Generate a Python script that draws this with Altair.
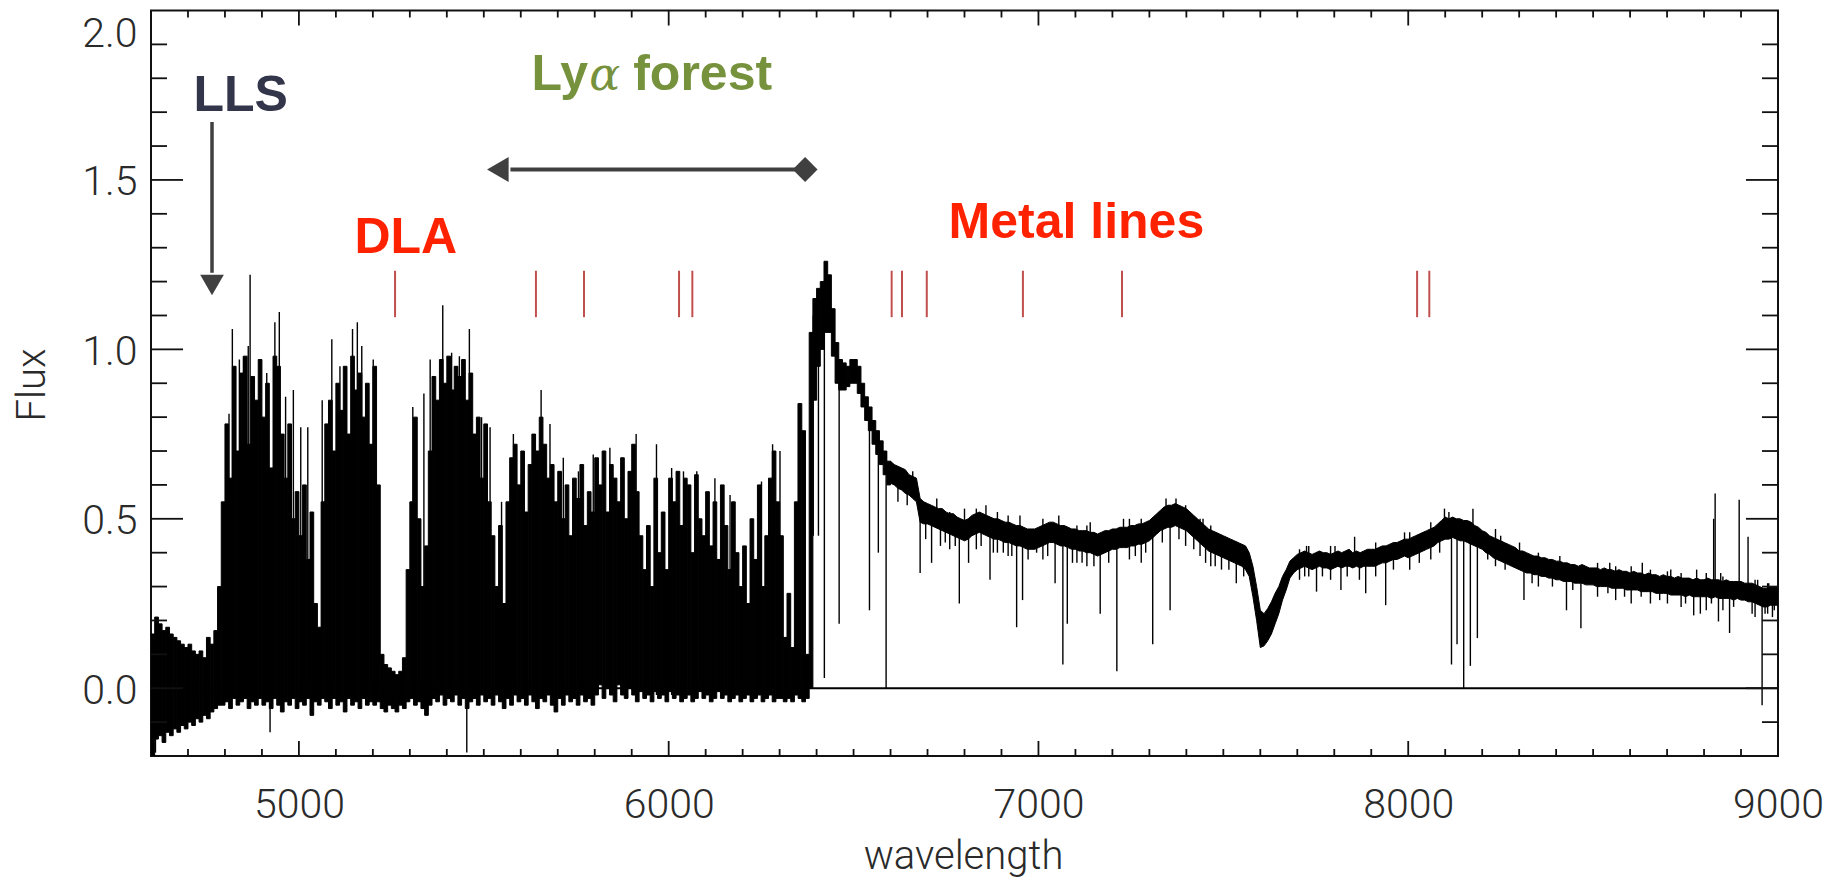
import altair as alt
import pandas as pd

# ---------------- spectrum, Lyman-alpha forest part: 10 A bins from 4600 ----------------
forest_start = 4600
forest_step = 10
forest_hi = [
    0.16, 0.21, 0.19, 0.17, 0.18, 0.16, 0.15, 0.14, 0.13, 0.12,
    0.13, 0.11, 0.10, 0.11, 0.09, 0.15, 0.13, 0.17, 0.30, 0.55,
    0.78, 0.62, 0.95, 0.70, 0.93, 0.98, 0.72, 0.92, 0.85, 0.97,
    0.80, 0.90, 0.65, 0.98, 0.95, 0.75, 0.62, 0.78, 0.50, 0.58,
    0.45, 0.60, 0.38, 0.52, 0.25, 0.18, 0.55, 0.78, 0.85, 0.70,
    0.90, 0.82, 0.95, 0.75, 0.98, 0.88, 0.93, 0.80, 0.90, 0.72,
    0.95, 0.60, 0.10, 0.07, 0.06, 0.05, 0.04, 0.05, 0.09, 0.35,
    0.55, 0.80, 0.50, 0.30, 0.42, 0.70, 0.92, 0.85, 0.97, 0.90,
    0.98, 0.88, 0.95, 0.92, 0.97, 0.85, 0.93, 0.75, 0.80, 0.62,
    0.78, 0.55, 0.45, 0.30, 0.48, 0.25, 0.55, 0.68, 0.72, 0.60,
    0.70, 0.52, 0.66, 0.75, 0.70, 0.80, 0.72, 0.62, 0.66, 0.55,
    0.64, 0.50, 0.60, 0.45, 0.62, 0.56, 0.66, 0.48, 0.58, 0.52,
    0.68, 0.60, 0.70, 0.52, 0.66, 0.62, 0.55, 0.68, 0.50, 0.64,
    0.72, 0.58, 0.45, 0.35, 0.48, 0.30, 0.62, 0.40, 0.52, 0.35,
    0.62, 0.55, 0.64, 0.48, 0.62, 0.60, 0.40, 0.63, 0.50, 0.45,
    0.58, 0.42, 0.55, 0.38, 0.60, 0.48, 0.35, 0.55, 0.40, 0.30,
    0.42, 0.25, 0.50, 0.38, 0.60, 0.30, 0.45, 0.62, 0.70, 0.55,
    0.45, 0.15, 0.28, 0.12, 0.55, 0.84, 0.76, 0.10, 1.05, 1.15,
    1.18, 1.20, 1.26, 1.22, 1.12, 1.02, 0.97, 0.96, 0.95, 0.97,
    0.97, 0.95, 0.90, 0.86, 0.83, 0.79, 0.76, 0.73, 0.70, 0.67,
]
forest_lo = [
    -0.20, -0.15, -0.14, -0.16, -0.13, -0.14, -0.12, -0.13, -0.11, -0.12,
    -0.10, -0.11, -0.09, -0.10, -0.08, -0.09, -0.07, -0.06, -0.05, -0.05,
    -0.04, -0.06, -0.03, -0.05, -0.04, -0.03, -0.06, -0.04, -0.05, -0.03,
    -0.05, -0.04, -0.06, -0.03, -0.05, -0.07, -0.04, -0.05, -0.03, -0.06,
    -0.04, -0.05, -0.03, -0.08, -0.04, -0.05, -0.03, -0.04, -0.06, -0.03,
    -0.05, -0.04, -0.07, -0.03, -0.05, -0.04, -0.06, -0.03, -0.05, -0.04,
    -0.05, -0.04, -0.06, -0.07, -0.05, -0.06, -0.07, -0.05, -0.06, -0.04,
    -0.03, -0.05, -0.04, -0.06, -0.08, -0.05, -0.03, -0.04, -0.02, -0.05,
    -0.03, -0.04, -0.02, -0.05, -0.03, -0.06, -0.04, -0.03, -0.05, -0.02,
    -0.04, -0.03, -0.05, -0.02, -0.04, -0.06, -0.03, -0.05, -0.02, -0.04,
    -0.03, -0.05, -0.02, -0.04, -0.06, -0.03, -0.04, -0.02, -0.05, -0.07,
    -0.03, -0.05, -0.02, -0.04, -0.03, -0.05, -0.02, -0.04, -0.03, -0.05,
    -0.02, 0.01, -0.03, 0.00, -0.02, -0.04, 0.01, -0.02, -0.03, 0.00,
    -0.02, -0.04, -0.01, -0.03, -0.02, -0.04, -0.01, -0.03, -0.02, -0.04,
    -0.01, -0.03, -0.02, -0.04, -0.03, -0.02, -0.04, -0.03, -0.01, -0.03,
    -0.02, -0.04, -0.03, -0.01, -0.03, -0.02, -0.04, -0.03, -0.02, -0.04,
    -0.03, -0.02, -0.04, -0.03, -0.02, -0.04, -0.03, -0.02, -0.04, -0.03,
    -0.03, -0.04, -0.03, -0.04, -0.02, -0.03, -0.04, -0.03, 0.00, 0.85,
    0.95, 1.00, 1.05, 1.05, 0.98, 0.90, 0.88, 0.88, 0.89, 0.90,
    0.90, 0.87, 0.83, 0.79, 0.76, 0.72, 0.69, 0.66, 0.63, 0.60,
]

# ---------------- spectrum, red continuum: samples every 10 A from 6600 to 9000 ----------------
cont_start = 6600
cont_step = 10
cont_hi = [
    0.67, 0.66, 0.655, 0.65, 0.645, 0.63, 0.625, 0.62, 0.56, 0.55,
    0.545, 0.54, 0.535, 0.53, 0.53, 0.52, 0.515, 0.515, 0.505, 0.50,
    0.495, 0.50, 0.51, 0.515, 0.52, 0.515, 0.51, 0.505, 0.50, 0.50,
    0.495, 0.49, 0.49, 0.485, 0.48, 0.48, 0.475, 0.47, 0.47, 0.47,
    0.475, 0.48, 0.485, 0.49, 0.49, 0.485, 0.48, 0.48, 0.475, 0.47,
    0.47, 0.465, 0.465, 0.465, 0.46, 0.46, 0.455, 0.46, 0.465, 0.465,
    0.47, 0.47, 0.475, 0.475, 0.475, 0.48, 0.48, 0.485, 0.485, 0.49,
    0.495, 0.505, 0.515, 0.525, 0.535, 0.54, 0.54, 0.545, 0.54, 0.535,
    0.53, 0.52, 0.51, 0.50, 0.49, 0.48, 0.47, 0.465, 0.46, 0.455,
    0.45, 0.445, 0.44, 0.435, 0.43, 0.425, 0.42, 0.40, 0.36, 0.30,
    0.23, 0.22, 0.235, 0.255, 0.28, 0.30, 0.33, 0.35, 0.375, 0.385,
    0.395, 0.40, 0.405, 0.40, 0.395, 0.40, 0.405, 0.40, 0.40, 0.395,
    0.40, 0.405, 0.40, 0.405, 0.41, 0.40, 0.405, 0.40, 0.405, 0.41,
    0.41, 0.41, 0.415, 0.42, 0.42, 0.425, 0.43, 0.43, 0.435, 0.44,
    0.44, 0.445, 0.45, 0.455, 0.46, 0.465, 0.47, 0.475, 0.485, 0.495,
    0.505, 0.50, 0.505, 0.50, 0.50, 0.495, 0.495, 0.49, 0.48, 0.475,
    0.465, 0.46, 0.45, 0.445, 0.44, 0.435, 0.43, 0.425, 0.42, 0.415,
    0.405, 0.405, 0.40, 0.395, 0.39, 0.39, 0.385, 0.385, 0.38, 0.38,
    0.375, 0.375, 0.37, 0.37, 0.365, 0.365, 0.36, 0.365, 0.36, 0.355,
    0.355, 0.355, 0.35, 0.355, 0.35, 0.35, 0.345, 0.35, 0.345, 0.345,
    0.34, 0.345, 0.34, 0.34, 0.335, 0.34, 0.335, 0.335, 0.33, 0.335,
    0.33, 0.33, 0.325, 0.33, 0.325, 0.325, 0.325, 0.32, 0.325, 0.32,
    0.32, 0.325, 0.32, 0.32, 0.32, 0.315, 0.32, 0.315, 0.315, 0.315,
    0.315, 0.31, 0.31, 0.31, 0.305, 0.30, 0.295, 0.295, 0.30, 0.30,
    0.30,
]
cont_lo = [
    0.605, 0.60, 0.59, 0.585, 0.575, 0.57, 0.56, 0.55, 0.49, 0.485,
    0.485, 0.48, 0.475, 0.47, 0.465, 0.46, 0.455, 0.45, 0.445, 0.44,
    0.435, 0.44, 0.45, 0.455, 0.46, 0.455, 0.45, 0.445, 0.44, 0.44,
    0.435, 0.43, 0.43, 0.425, 0.42, 0.42, 0.415, 0.41, 0.41, 0.41,
    0.415, 0.42, 0.425, 0.43, 0.43, 0.425, 0.42, 0.42, 0.415, 0.41,
    0.41, 0.405, 0.405, 0.40, 0.40, 0.395, 0.39, 0.395, 0.40, 0.405,
    0.41, 0.41, 0.415, 0.415, 0.415, 0.42, 0.42, 0.425, 0.425, 0.43,
    0.435, 0.445, 0.455, 0.465, 0.47, 0.475, 0.475, 0.48, 0.475, 0.47,
    0.465, 0.455, 0.445, 0.435, 0.425, 0.415, 0.405, 0.40, 0.395, 0.39,
    0.385, 0.38, 0.375, 0.37, 0.365, 0.36, 0.35, 0.33, 0.27, 0.20,
    0.12, 0.125, 0.14, 0.16, 0.19, 0.22, 0.26, 0.29, 0.325, 0.34,
    0.35, 0.355, 0.36, 0.355, 0.35, 0.355, 0.36, 0.355, 0.355, 0.35,
    0.355, 0.36, 0.355, 0.36, 0.36, 0.355, 0.36, 0.355, 0.36, 0.36,
    0.36, 0.36, 0.365, 0.37, 0.37, 0.375, 0.38, 0.38, 0.385, 0.39,
    0.385, 0.39, 0.395, 0.40, 0.405, 0.41, 0.415, 0.42, 0.43, 0.435,
    0.44, 0.44, 0.445, 0.44, 0.435, 0.435, 0.43, 0.425, 0.42, 0.415,
    0.41, 0.40, 0.395, 0.385, 0.38, 0.375, 0.37, 0.365, 0.36, 0.355,
    0.35, 0.345, 0.34, 0.34, 0.335, 0.335, 0.33, 0.33, 0.325, 0.325,
    0.32, 0.32, 0.315, 0.315, 0.315, 0.31, 0.31, 0.31, 0.305, 0.305,
    0.305, 0.30, 0.30, 0.30, 0.30, 0.295, 0.295, 0.295, 0.295, 0.29,
    0.29, 0.29, 0.29, 0.285, 0.285, 0.285, 0.285, 0.28, 0.28, 0.28,
    0.28, 0.275, 0.275, 0.275, 0.275, 0.27, 0.275, 0.27, 0.27, 0.27,
    0.27, 0.27, 0.265, 0.27, 0.265, 0.265, 0.265, 0.265, 0.26, 0.265,
    0.26, 0.26, 0.255, 0.255, 0.25, 0.245, 0.24, 0.24, 0.245, 0.245,
    0.245,
]

# ---------------- narrow features (absorption lines, forest peaks, sky lines, noise) ----------------
line_wl = [
    4606, 4612, 4811, 4820, 4839, 4850, 4863, 4868, 4913, 4922, 4935, 4947, 4964, 4985,
    5005, 5024, 5035, 5063, 5089, 5111, 5145, 5158, 5170, 5201, 5308, 5338, 5355, 5389,
    5413, 5434, 5454, 5461, 5494, 5517, 5548, 5580, 5655, 5679, 5715, 5756, 5796, 5841,
    5873, 5912, 5967, 6008, 6040, 6076, 6125, 6166, 6251, 6281, 6301, 6351,
    6391, 6405, 6421, 6461, 6543, 6567, 6588,
    6680, 6711, 6786, 6811, 6869, 6941, 6957, 6995, 7045, 7066, 7078, 7167, 7212,
    7309, 7356, 7495, 7535, 7752, 7818, 7855, 7885, 7939, 8117, 8132, 8150, 8168,
    8175, 8187, 8301, 8313, 8428, 8467, 8772, 8790, 8826, 8830, 8839, 8869, 8895,
    8919, 8957, 8990,
    6735, 6760, 6832, 6889, 6918, 7012, 7104, 7131, 7246, 7278, 7398, 7437, 7466,
    7706, 7731, 7790, 7912, 8004, 8061, 8236, 8352, 8512, 8561, 8603, 8655, 8701,
    8738, 8806, 8851, 8938, 8972,
    6620, 6645, 6695, 6748, 6775, 6845, 6878, 6905, 6928, 6972, 7025, 7092, 7118,
    7150, 7190, 7262, 7290, 7335, 7380, 7420, 7452, 7478, 7515, 7555, 7720, 7768,
    7835, 7868, 7960, 8030, 8085, 8215, 8262, 8335, 8390, 8445, 8540, 8585, 8630,
    8680, 8750, 8820, 8880, 8930, 8965, 8985,
    6660, 6725, 6800, 6858, 6950, 7055, 7140, 7230, 7345, 7372, 7445, 7725, 7802,
    7990, 8098, 8110, 8250, 8410, 8545, 8633, 8710, 8780, 8845, 8945, 8975,
]
line_lo = [
    -0.20, -0.19, -0.02, -0.02, -0.02, -0.02, -0.02, -0.02, -0.02, -0.13, -0.02, -0.02, -0.02, -0.02,
    -0.02, -0.02, -0.08, -0.02, -0.02, -0.02, -0.02, -0.02, -0.02, -0.02, -0.02, -0.02, -0.02, -0.02,
    -0.02, -0.02, -0.19, -0.02, -0.02, -0.02, -0.02, -0.02, -0.02, -0.02, -0.02, -0.02, -0.02, -0.02,
    -0.02, -0.02, -0.02, -0.02, -0.02, -0.02, -0.02, -0.02, -0.02, -0.02, -0.02, -0.02,
    0.45, 0.45, 0.03, 0.19, 0.23, 0.40, 0.00,
    0.34, 0.37, 0.25, 0.37, 0.32, 0.18, 0.26, 0.40, 0.31, 0.07, 0.19, 0.22, 0.05,
    0.13, 0.23, 0.35, 0.31, 0.285, 0.29, 0.38, 0.28, 0.245, 0.07, 0.13, 0.00, 0.066,
    0.46, 0.148, 0.38, 0.26, 0.23, 0.177, 0.215, 0.22, 0.30, 0.30, 0.197, 0.163, 0.30,
    0.29, -0.05, 0.23,
    0.42, 0.41, 0.41, 0.40, 0.39, 0.38, 0.37, 0.36, 0.38, 0.37, 0.42, 0.39, 0.36,
    0.32, 0.33, 0.32, 0.33, 0.35, 0.38, 0.36, 0.30, 0.27, 0.26, 0.25, 0.25, 0.25,
    0.24, 0.23, 0.23, 0.21, 0.22,
    0.55, 0.54, 0.44, 0.43, 0.42, 0.42, 0.40, 0.40, 0.39, 0.38, 0.39, 0.37, 0.37,
    0.36, 0.37, 0.39, 0.40, 0.43, 0.44, 0.41, 0.37, 0.36, 0.35, 0.33, 0.33, 0.33,
    0.33, 0.32, 0.35, 0.37, 0.40, 0.38, 0.35, 0.31, 0.30, 0.29, 0.28, 0.27, 0.27,
    0.26, 0.25, 0.25, 0.24, 0.22, 0.22, 0.21,
    0.58, 0.50, 0.47, 0.48, 0.45, 0.45, 0.43, 0.44, 0.50, 0.50, 0.45, 0.37, 0.38,
    0.41, 0.47, 0.47, 0.40, 0.34, 0.32, 0.31, 0.30, 0.29, 0.29, 0.27, 0.26,
]
line_hi = [
    0.05, 0.00, 0.81, 1.06, 0.97, 0.98, 1.01, 1.22, 0.93, 0.20, 1.08, 1.11, 0.86, 0.88,
    0.77, 0.77, 0.20, 0.85, 1.03, 0.95, 1.06, 1.08, 1.01, 0.97, 0.83, 0.87, 0.97, 1.13,
    0.99, 0.98, 0.30, 1.06, 0.80, 0.77, 0.55, 0.75, 0.88, 0.78, 0.68, 0.64, 0.69, 0.71,
    0.68, 0.75, 0.72, 0.65, 0.64, 0.64, 0.62, 0.57, 0.61, 0.72, 0.70, 0.84,
    1.10, 1.15, 1.20, 0.97, 0.82, 0.75, 0.70,
    0.52, 0.50, 0.47, 0.47, 0.48, 0.45, 0.45, 0.44, 0.45, 0.45, 0.44, 0.42, 0.44,
    0.46, 0.49, 0.40, 0.39, 0.37, 0.37, 0.447, 0.37, 0.39, 0.46, 0.46, 0.46, 0.45,
    0.53, 0.44, 0.43, 0.37, 0.34, 0.33, 0.30, 0.30, 0.50, 0.575, 0.30, 0.29, 0.556,
    0.447, 0.29, 0.28,
    0.53, 0.52, 0.53, 0.52, 0.51, 0.50, 0.48, 0.48, 0.50, 0.50, 0.54, 0.50, 0.48,
    0.41, 0.42, 0.42, 0.43, 0.46, 0.49, 0.47, 0.40, 0.37, 0.36, 0.36, 0.35, 0.345,
    0.34, 0.34, 0.33, 0.32, 0.31,
    0.62, 0.60, 0.51, 0.49, 0.48, 0.49, 0.47, 0.46, 0.46, 0.44, 0.45, 0.44, 0.43,
    0.43, 0.44, 0.45, 0.46, 0.50, 0.51, 0.48, 0.44, 0.43, 0.41, 0.40, 0.38, 0.38,
    0.38, 0.38, 0.40, 0.42, 0.46, 0.43, 0.40, 0.37, 0.35, 0.34, 0.33, 0.32, 0.31,
    0.31, 0.30, 0.29, 0.29, 0.28, 0.27, 0.27,
    0.64, 0.56, 0.53, 0.54, 0.51, 0.51, 0.49, 0.50, 0.56, 0.56, 0.50, 0.42, 0.42,
    0.46, 0.53, 0.52, 0.45, 0.39, 0.37, 0.37, 0.35, 0.35, 0.34, 0.32, 0.31,
]

# ---------------- annotations ----------------
metal_wl = [5260, 5641, 5771, 6028, 6064, 6603, 6631, 6698, 6958, 7226, 8024, 8057]
metal_y1 = 1.095
metal_y2 = 1.232

label_text = ["LLS", "DLA", "Metal lines", "Ly", "forest"]
label_wl = [4715, 5150, 6757, 5629, 5904]
label_flux = [1.703, 1.284, 1.329, 1.766, 1.766]
label_color = ["#33364A", "#FF2200", "#FF2200", "#76923C", "#76923C"]
alpha_wl = [5785]
alpha_flux = [1.766]

lls_arrow_wl = 4765
lls_arrow_top = 1.671
lls_arrow_base = 1.226
lls_head_flux = 1.190
forest_arrow_flux = 1.531
forest_arrow_left = 5572
forest_arrow_right = 6369
forest_head_wl = 5538

x_major = [5000, 6000, 7000, 8000]
x_minor = [w for w in range(4700, 9000, 100) if w % 1000 != 0]
y_major = [0.0, 0.5, 1.0, 1.5]
y_minor = [-0.1, 0.1, 0.2, 0.3, 0.4, 0.6, 0.7, 0.8, 0.9, 1.1, 1.2, 1.3, 1.4,
           1.6, 1.7, 1.8, 1.9]

# ---------------- build tables ----------------
bins = pd.DataFrame({
    "wl": [forest_start + i * forest_step for i in range(len(forest_hi))],
    "lo": forest_lo,
    "hi": forest_hi,
})
bins["wl2"] = bins["wl"] + forest_step
cont = pd.DataFrame({
    "wl": [cont_start + i * cont_step for i in range(len(cont_hi))],
    "lo": cont_lo,
    "hi": cont_hi,
})
lines = pd.DataFrame({"wl": line_wl, "lo": line_lo, "hi": line_hi})

W = 1627
H = 745.5
xs = alt.Scale(domain=[4600, 9000], nice=False, zero=False)
ys = alt.Scale(domain=[-0.2, 2.0], nice=False, zero=False)
TICKF = "Roboto"
INK = "#2a2a2a"

x_axis = alt.Axis(
    values=[5000, 6000, 7000, 8000, 9000], format="d", title="wavelength",
    grid=False, domain=False, ticks=False, tickSize=0, labelPadding=29, labelFlush=False,
    labelFont=TICKF, labelFontWeight=300, labelFontSize=41, labelColor=INK,
    titleFont=TICKF, titleFontWeight=300, titleFontSize=40, titleColor=INK,
    titleX=812, titleY=112, titleAlign="center", titleBaseline="alphabetic",
    labelOverlap=False,
)
y_axis = alt.Axis(
    values=[0.0, 0.5, 1.0, 1.5, 2.0], format=".1f", title="Flux",
    grid=False, domain=False, ticks=False, tickSize=0, labelPadding=14, labelFlush=True,
    labelOffset=3, labelFlushOffset=-1,
    labelFont=TICKF, labelFontWeight=300, labelFontSize=41, labelColor=INK,
    titleFont=TICKF, titleFontWeight=300, titleFontSize=40, titleColor=INK,
    titleX=-119, titleY=374, titleAngle=270, titleAlign="center",
    titleBaseline="middle", labelOverlap=False,
)


def X(field):
    return alt.X(field, type="quantitative", scale=xs, axis=x_axis)


def Y(field):
    return alt.Y(field, type="quantitative", scale=ys, axis=y_axis)


spec = alt.Chart(bins).mark_rect(color="black", stroke="black", strokeWidth=1.0,
                                 clip=True).encode(
    x=X("wl"), x2="wl2", y=Y("lo"), y2="hi")
cont_band = alt.Chart(cont).mark_area(color="black", stroke="black", strokeWidth=1.0,
                                      opacity=1, clip=True).encode(
    x=X("wl"), y=Y("lo"), y2="hi")
narrow = alt.Chart(lines).mark_rule(color="black", strokeWidth=1.4, clip=True).encode(
    x=X("wl"), y=Y("lo"), y2="hi")
zero = alt.Chart(pd.DataFrame({"f": [0.0]})).mark_rule(color="black", strokeWidth=2).encode(
    y=Y("f"))


def xticks(vals, length):
    d = pd.DataFrame({"t": vals})
    bot = alt.Chart(d).mark_rule(color="#111", strokeWidth=1.8).encode(
        x=X("t"), y=alt.value(H), y2=alt.value(H - length))
    top = alt.Chart(d).mark_rule(color="#111", strokeWidth=1.8).encode(
        x=X("t"), y=alt.value(0), y2=alt.value(length))
    return [bot, top]


def yticks(vals, length):
    d = pd.DataFrame({"t": vals})
    left = alt.Chart(d).mark_rule(color="#111", strokeWidth=1.8).encode(
        y=Y("t"), x=alt.value(0), x2=alt.value(length))
    right = alt.Chart(d).mark_rule(color="#111", strokeWidth=1.8).encode(
        y=Y("t"), x=alt.value(W), x2=alt.value(W - length))
    return [left, right]


ticks = xticks(x_minor, 7) + xticks(x_major, 15) + yticks(y_minor, 16) + yticks(y_major, 32)

metal = alt.Chart(pd.DataFrame({"wl": metal_wl, "a": [metal_y1] * len(metal_wl),
                                "b": [metal_y2] * len(metal_wl)})).mark_rule(
    color="#C0504D", strokeWidth=2).encode(x=X("wl"), y=Y("a"), y2="b")

labels = alt.Chart(pd.DataFrame({"t": label_text, "wl": label_wl, "f": label_flux,
                                 "c": label_color})).mark_text(
    font="Liberation Sans", fontWeight="bold", fontSize=50, align="left",
    baseline="alphabetic").encode(
    x=X("wl"), y=Y("f"), text="t:N", color=alt.Color("c:N", scale=None))
alpha = alt.Chart(pd.DataFrame({"wl": alpha_wl, "f": alpha_flux, "t": ["α"]})).mark_text(
    font="DejaVu Serif", fontStyle="italic", fontSize=46, align="left",
    baseline="alphabetic", color="#76923C").encode(x=X("wl"), y=Y("f"), text="t:N")

ARROW = "#404040"
lls_line = alt.Chart(pd.DataFrame({"wl": [lls_arrow_wl], "a": [lls_arrow_top],
                                   "b": [lls_arrow_base]})).mark_rule(
    color=ARROW, strokeWidth=3.5).encode(x=X("wl"), y=Y("a"), y2="b")
lls_head = alt.Chart(pd.DataFrame({"wl": [lls_arrow_wl], "f": [lls_head_flux]})).mark_point(
    shape="triangle-down", filled=True, size=560, color=ARROW, opacity=1).encode(
    x=X("wl"), y=Y("f"))
fa_line = alt.Chart(pd.DataFrame({"a": [forest_arrow_left], "b": [forest_arrow_right],
                                  "f": [forest_arrow_flux]})).mark_rule(
    color=ARROW, strokeWidth=4).encode(x=X("a"), x2="b", y=Y("f"))
fa_left = alt.Chart(pd.DataFrame({"wl": [forest_head_wl], "f": [forest_arrow_flux]})).mark_point(
    shape="triangle-left", filled=True, size=620, color=ARROW, opacity=1).encode(
    x=X("wl"), y=Y("f"))
fa_right = alt.Chart(pd.DataFrame({"wl": [forest_arrow_right], "f": [forest_arrow_flux]})).mark_point(
    shape="diamond", filled=True, size=620, color=ARROW, opacity=1).encode(
    x=X("wl"), y=Y("f"))

chart = alt.layer(
    spec, cont_band, narrow, zero, *ticks, metal, labels, alpha, lls_line, lls_head,
    fa_line, fa_left, fa_right,
).properties(
    width=W, height=H, autosize="none", background="white",
    padding={"left": 143, "top": 2.5, "right": 50, "bottom": 125},
).configure_view(stroke="#111", strokeWidth=2)

chart.save("out.html", embed_options={"renderer": "svg", "actions": False})
